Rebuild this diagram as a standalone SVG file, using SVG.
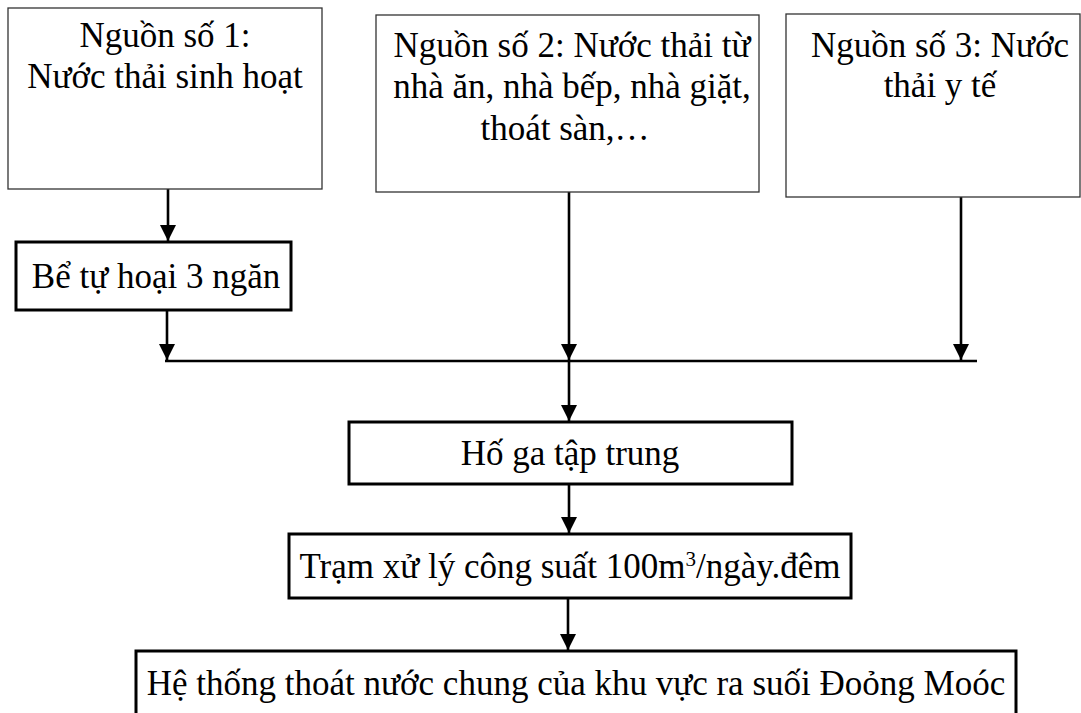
<svg xmlns="http://www.w3.org/2000/svg" width="1081" height="713" viewBox="0 0 1081 713">
<style>
.thin{fill:#fff;stroke:#333;stroke-width:1.3}
.thick{fill:#fff;stroke:#000;stroke-width:3}
.t{font-family:"Liberation Serif","Times New Roman",serif;font-size:35px;fill:#000;text-anchor:middle}
.c{stroke:#000;stroke-width:2.6;fill:none}
</style>
<defs>
<marker id="ah" markerUnits="userSpaceOnUse" markerWidth="16" markerHeight="17" refX="8" refY="16" orient="0" viewBox="0 0 16 17">
<path d="M0,0 L16,0 L8,16 Z" fill="#000"/>
</marker>
</defs>
<g id="connectors">
<line class="c" x1="168" y1="189" x2="168" y2="241" marker-end="url(#ah)"/>
<line class="c" x1="167" y1="310" x2="167" y2="360" marker-end="url(#ah)"/>
<line class="c" x1="569" y1="192" x2="569" y2="360" marker-end="url(#ah)"/>
<line class="c" x1="961" y1="197" x2="961" y2="360" marker-end="url(#ah)"/>
<line class="c" x1="165" y1="361" x2="977" y2="361"/>
<line class="c" x1="569" y1="361" x2="569" y2="421" marker-end="url(#ah)"/>
<line class="c" x1="569" y1="484" x2="569" y2="533" marker-end="url(#ah)"/>
<line class="c" x1="568" y1="598" x2="568" y2="650" marker-end="url(#ah)"/>
</g>
<g id="n1">
<rect class="thin" x="8" y="8" width="314" height="181"/>
<text class="t" x="165" y="47">Nguồn số 1:</text>
<text class="t" x="165" y="88">Nước thải sinh hoạt</text>
</g>
<g id="n2">
<rect class="thin" x="376" y="15" width="383" height="177"/>
<text class="t" x="572" y="57">Nguồn số 2: Nước thải từ</text>
<text class="t" x="572" y="98">nhà ăn, nhà bếp, nhà giặt,</text>
<text class="t" x="565" y="140">thoát sàn,…</text>
</g>
<g id="n3">
<rect class="thin" x="786" y="14" width="294" height="183"/>
<text class="t" x="940" y="57">Nguồn số 3: Nước</text>
<text class="t" x="940" y="97">thải y tế</text>
</g>
<g id="n4">
<rect class="thick" x="16" y="242" width="275" height="68"/>
<text class="t" x="156" y="288">Bể tự hoại 3 ngăn</text>
</g>
<g id="n5">
<rect class="thick" x="349" y="422" width="443" height="62"/>
<text class="t" x="570" y="465">Hố ga tập trung</text>
</g>
<g id="n6">
<rect class="thick" x="289" y="534" width="562" height="64"/>
<text class="t" x="570" y="578">Trạm xử lý công suất 100m<tspan dy="-12" font-size="21">3</tspan><tspan dy="12">/ngày.đêm</tspan></text>
</g>
<g id="n7">
<rect class="thick" x="136" y="651" width="880" height="70"/>
<text class="t" x="576" y="695">Hệ thống thoát nước chung của khu vực ra suối Đoỏng Moóc</text>
</g>
</svg>
